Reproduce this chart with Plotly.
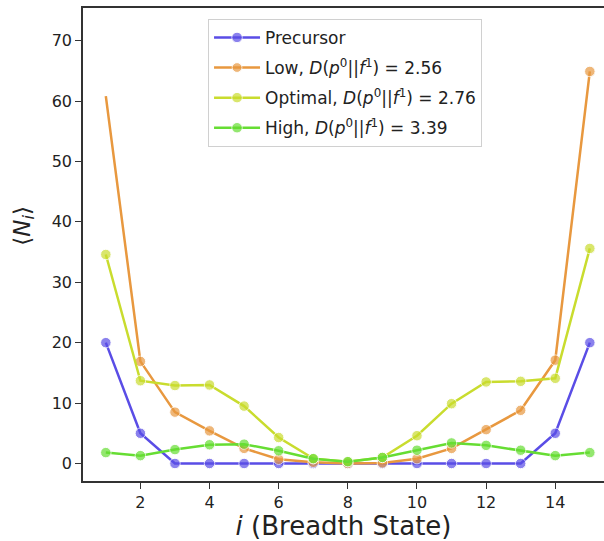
import plotly.graph_objects as go

states = list(range(1, 16))
precursor = [20.0, 5.0, 0, 0, 0, 0, 0, 0, 0, 0, 0, 0, 0, 5.0, 20.0]
low = [60.8, 16.9, 8.5, 5.4, 2.5, 0.7, 0.2, 0.0, 0.1, 0.8, 2.5, 5.6, 8.8, 17.1, 64.9]
optimal = [34.6, 13.7, 12.9, 13.0, 9.5, 4.3, 0.8, 0.3, 1.0, 4.6, 9.9, 13.5, 13.6, 14.1, 35.6]
high = [1.8, 1.3, 2.3, 3.1, 3.2, 2.1, 0.8, 0.3, 1.0, 2.2, 3.4, 3.0, 2.2, 1.3, 1.8]

names = [
    "Precursor",
    "Low, <i>D</i>(<i>p</i><sup>0</sup>||<i>f</i><sup>1</sup>) = 2.56",
    "Optimal, <i>D</i>(<i>p</i><sup>0</sup>||<i>f</i><sup>1</sup>) = 2.76",
    "High, <i>D</i>(<i>p</i><sup>0</sup>||<i>f</i><sup>1</sup>) = 3.39",
]
colors = ["#5a4de6", "#e8983f", "#c9dc2e", "#66dd33"]
series = [precursor, low, optimal, high]

fig = go.Figure()
for k, (nm, col, ys) in enumerate(zip(names, colors, series)):
    sizes = [10.5] * len(states)
    if k == 1:
        sizes[0] = 0
    fig.add_trace(go.Scatter(
        x=states, y=ys, name=nm, mode="lines+markers",
        line=dict(color=col, width=2.5),
        marker=dict(color=col, size=sizes),
        legendgroup=str(k),
    ))

font_family = "DejaVu Sans"
fig.update_layout(
    width=604, height=541,
    margin=dict(l=83, r=0, t=8, b=60),
    paper_bgcolor="white", plot_bgcolor="white",
    font=dict(family=font_family, color="#222222", size=15),
    showlegend=True,
    legend=dict(
        x=0.240, y=0.977, xanchor="left", yanchor="top",
        bgcolor="rgba(255,255,255,0.9)", bordercolor="#d0d0d0", borderwidth=1,
        font=dict(size=17, family=font_family, color="#222222"),
        tracegroupgap=5, itemwidth=46,
    ),
    xaxis=dict(
        range=[0.34, 15.41], tickvals=[2, 4, 6, 8, 10, 12, 14],
        showgrid=False, zeroline=False,
        showline=True, linecolor="#333333", linewidth=1.5, mirror=True,
        ticks="outside", ticklen=6, tickcolor="#333333",
        tickfont=dict(size=16),
        title=dict(text="<i>i</i> (Breadth State)", font=dict(size=26), standoff=4),
    ),
    yaxis=dict(
        range=[-2.9, 75.4], tickvals=[0, 10, 20, 30, 40, 50, 60, 70],
        showgrid=False, zeroline=False,
        showline=True, linecolor="#333333", linewidth=1.5, mirror=False,
        ticks="outside", ticklen=6, tickcolor="#333333",
        tickfont=dict(size=16),
    ),
    annotations=[dict(
        text="⟨<i>N<sub>i</sub></i>⟩", xref="paper", yref="paper",
        x=-0.115, y=0.54, xanchor="center", yanchor="middle",
        textangle=-90, showarrow=False, font=dict(size=23, family=font_family),
    )],
)

fig.write_html("out.html")
